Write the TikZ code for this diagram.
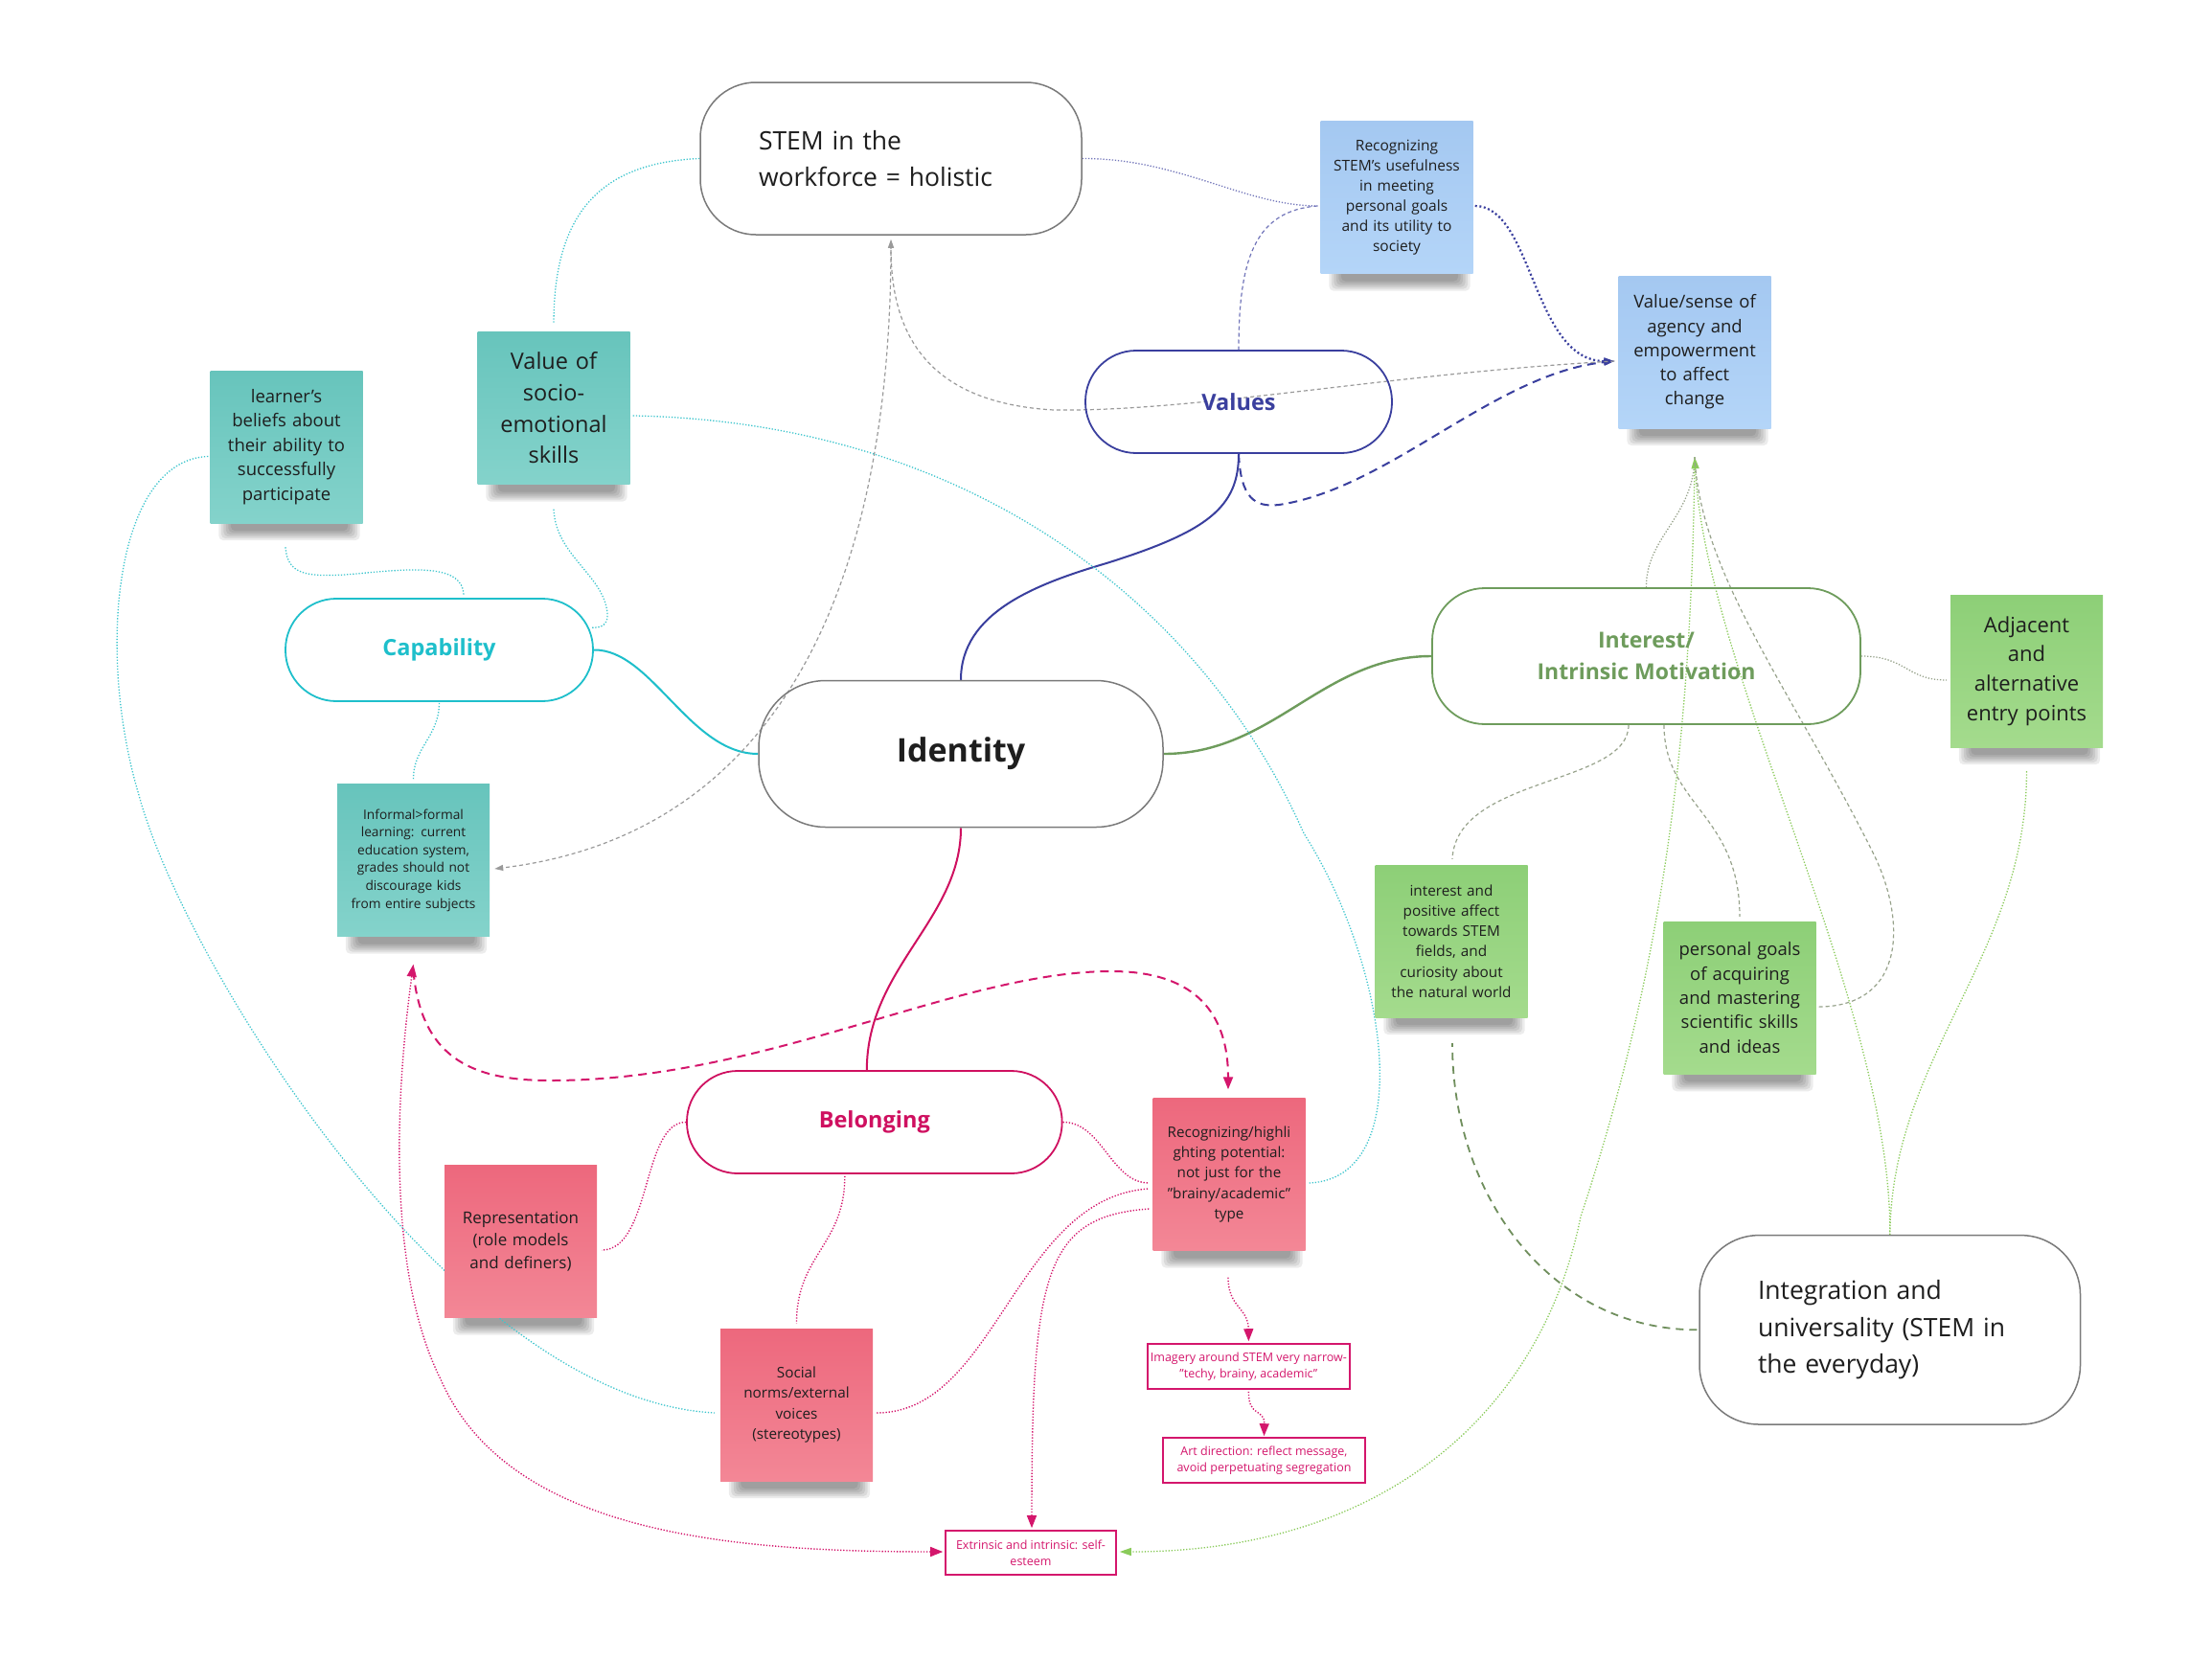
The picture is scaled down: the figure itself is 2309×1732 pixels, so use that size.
\documentclass[tikz,border=0pt]{standalone}
\usepackage{fontspec}
\setmainfont{Open Sans}
\usetikzlibrary{arrows.meta,calc}
\newcommand\myfs[2]{\fontsize{#1}{#2}\selectfont}
\definecolor{teal1}{HTML}{67C4BC}
\definecolor{teal2}{HTML}{84D3CB}
\definecolor{blue1}{HTML}{A4C8F1}
\definecolor{blue2}{HTML}{B4D5F8}
\definecolor{green1}{HTML}{8DCF77}
\definecolor{green2}{HTML}{A4DB8D}
\definecolor{pink1}{HTML}{ED687D}
\definecolor{pink2}{HTML}{F38796}
\definecolor{capc}{HTML}{1EBFCB}
\definecolor{valc}{HTML}{3A3F9E}
\definecolor{intc}{HTML}{6E9C5C}
\definecolor{belc}{HTML}{CF1060}
\definecolor{magc}{HTML}{D4166C}
\definecolor{tealline}{HTML}{3EC6CE}
\definecolor{greenline}{HTML}{8ACB5A}
\definecolor{grayline}{HTML}{9A9A9A}
\definecolor{ggline}{HTML}{98A38C}
\definecolor{oliveline}{HTML}{6F8E5C}
\definecolor{boxgray}{HTML}{7A7A7A}
\definecolor{bluelite}{HTML}{7276BA}
\definecolor{txt}{HTML}{1E1E1E}
\pgfdeclarelayer{bg}
\pgfdeclarelayer{shad}
\pgfdeclarelayer{conn}
\pgfsetlayers{bg,shad,conn,main}
\tikzset{
  sticky/.style={minimum width=159, minimum height=159, inner sep=0, align=center, text width=154, text=txt},
  tealnote/.style={sticky, top color=teal1, bottom color=teal2},
  bluenote/.style={sticky, top color=blue1, bottom color=blue2},
  greennote/.style={sticky, top color=green1, bottom color=green2},
  pinknote/.style={sticky, top color=pink1, bottom color=pink2},
  bigbox/.style={draw=boxgray, line width=1.5, inner sep=0, text=txt},
  pill/.style={line width=1.8, minimum height=107, rounded corners=53, inner sep=0, align=center, font=\myfs{23.5}{33.5}\bfseries},
  smallbox/.style={draw=magc, line width=1.6, text=magc, align=center, inner sep=0, font=\myfs{12.5}{16.8}},
  tdotline/.style={tealline, line width=1.3, dash pattern=on 1.3pt off 1.8pt},
  mdotline/.style={magc, line width=1.4, dash pattern=on 1.3pt off 1.8pt},
  gdotline/.style={greenline, line width=1.3, dash pattern=on 1.3pt off 1.8pt},
  ggdotline/.style={ggline, line width=1.3, dash pattern=on 1.3pt off 1.8pt},
  ggdashline/.style={ggline, line width=1.2, dash pattern=on 4pt off 3pt},
  graydashline/.style={grayline, line width=1.2, dash pattern=on 4pt off 3pt},
  bluedotline/.style={bluelite, line width=1.3, dash pattern=on 1.3pt off 1.8pt},
  bluedashline/.style={bluelite, line width=1.2, dash pattern=on 4pt off 3pt},
  bluedotthick/.style={valc, line width=2.2, dash pattern=on 2pt off 2.6pt},
  bluedashthick/.style={valc, line width=2, dash pattern=on 9pt off 6pt},
  magdashline/.style={magc, line width=2, dash pattern=on 9pt off 6pt},
  olivedashline/.style={oliveline, line width=1.8, dash pattern=on 8pt off 6pt},
  magtip/.tip={Triangle[length=13pt,width=10pt]},
  graytip/.tip={Triangle[length=9pt,width=6pt]},
  bluetip/.tip={Triangle[length=11pt,width=7pt]},
  greentip/.tip={Triangle[length=12pt,width=8pt]},
}
\newcommand\stkshadow[1]{%
  \foreach \k in {0,...,5} {%
    \fill[black, opacity=0.075, rounded corners=5] ($(#1.south west)+(9+2.5*\k,-8)$) rectangle ($(#1.south east)+(-3-2.5*\k,18-2*\k)$);}}
\begin{document}
\begin{tikzpicture}[x=1pt,y=-1pt]
\begin{pgfonlayer}{bg}
\fill[white] (0,0) rectangle (2309,1732);
\end{pgfonlayer}
\useasboundingbox (0,0) rectangle (2309,1732);

% ---------- big boxes ----------
\node[bigbox, minimum width=398, minimum height=159, rounded corners=58, text width=276, align=left, font=\myfs{26.5}{38}] (stem) at (930,165.5) {STEM in the\\workforce = holistic};
\node[bigbox, minimum width=422, minimum height=153, rounded corners=70, font=\myfs{34}{40}\bfseries] (identity) at (1003,787) {Identity};
\node[bigbox, minimum width=397.5, minimum height=197.4, rounded corners=62, text width=275.5, align=left, font=\myfs{26.5}{38.5}] (integ) at (1972.75,1388.3) {Integration and\\universality (STEM in\\the everyday)};

% ---------- pills ----------
\node[pill, draw=valc, text=valc, minimum width=320] (values) at (1293,419.5) {Values};
\node[pill, draw=capc, text=capc, minimum width=321] (capab) at (458.5,678.5) {Capability};
\node[pill, draw=intc, text=intc, minimum width=447, minimum height=142, rounded corners=55, font=\myfs{23}{33.5}\bfseries] (interest) at (1718.5,685) {Interest/\\Intrinsic Motivation};
\node[pill, draw=belc, text=belc, minimum width=391.6] (belong) at (912.8,1171.5) {Belonging};

% ---------- sticky notes ----------
\node[bluenote, font=\myfs{15.5}{21}] (useful) at (1458,206) {Recognizing\\STEM's usefulness\\in meeting\\personal goals\\and its utility to\\society};
\node[bluenote, font=\myfs{18.5}{25.2}] (vsense) at (1769,367.5) {Value/sense of\\agency and\\empowerment\\to affect\\change};
\node[tealnote, font=\myfs{18.5}{25.5}] (learner) at (299,466.5) {learner’s\\beliefs about\\their ability to\\successfully\\participate};
\node[tealnote, font=\myfs{23.5}{32.7}] (socio) at (578,426) {Value of\\socio-\\emotional\\skills};
\node[tealnote, font=\myfs{13.7}{18.6}] (informal) at (431.5,898) {Informal>formal\\learning: current\\education system,\\grades should not\\discourage kids\\from entire subjects};
\node[greennote, font=\myfs{22}{30.7}] (adjacent) at (2115.5,700.5) {Adjacent\\and\\alternative\\entry points};
\node[greennote, font=\myfs{15.3}{21.2}] (ipos) at (1515,982.5) {interest and\\positive affect\\towards STEM\\fields, and\\curiosity about\\the natural world};
\node[greennote, font=\myfs{18.5}{25.4}] (personal) at (1816,1041.6) {personal goals\\of acquiring\\and mastering\\scientific skills\\and ideas};
\node[pinknote, font=\myfs{17}{23.5}] (repr) at (543.5,1296) {Representation\\(role models\\and definers)};
\node[pinknote, font=\myfs{15.2}{21.2}] (recpot) at (1283,1226) {Recognizing/highli\\ghting potential:\\not just for the\\"brainy/academic"\\type};
\node[pinknote, font=\myfs{15.3}{21.5}] (social) at (831.5,1466.5) {Social\\norms/external\\voices\\(stereotypes)};

% ---------- small boxes ----------
\node[smallbox, minimum width=211, minimum height=47] (imagery) at (1303.4,1426.5) {Imagery around STEM very narrow-\\"techy, brainy, academic"};
\node[smallbox, minimum width=211, minimum height=47] (artdir) at (1319.5,1524.5) {Art direction: reflect message,\\avoid perpetuating segregation};
\node[smallbox, minimum width=178, minimum height=46] (extr) at (1076,1621) {Extrinsic and intrinsic: self-\\esteem};

\coordinate (vsarrow) at ($(vsense.south)+(0,30)$);

% ---------- shadows ----------
\begin{pgfonlayer}{shad}
\foreach \n in {useful,vsense,learner,socio,informal,adjacent,ipos,personal,repr,recpot,social} {\stkshadow{\n}}
\end{pgfonlayer}

% ---------- connectors ----------
\begin{pgfonlayer}{conn}
% solid links from Identity
\draw[capc, line width=2] (capab.east) .. controls (680,677.5) and (720,787) .. (identity.west);
\draw[valc, line width=2] (identity.north) .. controls (1003,640) and (1080,610) .. (1155,588) .. controls (1260,555) and (1293,530) .. (values.south);
\draw[intc, line width=2.4] (identity.east) .. controls (1330,787) and (1380,685) .. (interest.west);
\draw[belc, line width=2] (identity.south) .. controls (1003,960) and (905,1010) .. ($(belong.north)+(-8,0)$);

% STEM links
\draw[tdotline] (stem.west) .. controls (620,170) and (578,230) .. ($(socio.north)+(0,-8)$);
\draw[bluedotline] (stem.east) .. controls (1230,165) and (1300,215) .. ($(useful.west)+(-3,9)$);
\draw[bluedashline] ($(useful.west)+(-3,9)$) .. controls (1310,220) and (1293,270) .. (values.north);
\draw[bluedotthick, -{bluetip}] ($(useful.east)+(2,9)$) .. controls (1600,215) and (1600,377) .. ($(vsense.west)+(-4,9.5)$);
\draw[bluedashthick, -{bluetip}] (values.south) .. controls (1295,520) and (1310,530) .. (1335,527) .. controls (1450,510) and (1560,390) .. ($(vsense.west)+(-4,9.5)$);
\draw[graydashline, -{graytip}] ($(vsense.west)+(-4,9.5)$) .. controls (1450,390) and (1250,430) .. (1100,428) .. controls (960,420) and (930,340) .. ($(stem.south)+(0,4)$);
\draw[graydashline, -{graytip}] ($(stem.south)+(0,10)$) .. controls (930,600) and (820,870) .. ($(informal.east)+(5,9)$);

% teal dotted links
\draw[tdotline] ($(socio.east)+(3,8)$) .. controls (1000,440) and (1250,620) .. (1361,870) .. controls (1450,1010) and (1480,1230) .. ($(recpot.east)+(4,9)$);
\draw[tdotline] ($(socio.south)+(0,26)$) .. controls (580,580) and (630,600) .. (634,640) .. controls (635,652) and (628,656) .. ($(capab.north east)+(-3,31)$);
\draw[tdotline] ($(learner.south)+(-1,25)$) .. controls (300,600) and (320,602) .. (360,600) .. controls (420,595) and (484,585) .. ($(capab.north)+(25.5,-2)$);
\draw[tdotline] ($(learner.west)+(-2,10)$) .. controls (120,480) and (100,680) .. (145,830) .. controls (190,1000) and (470,1460) .. ($(social.west)+(-6,8.5)$);
\draw[tdotline] ($(capab.south)+(0,1)$) .. controls (458,770) and (431,780) .. ($(informal.north)+(0,-4)$);

% Belonging links
\draw[mdotline] (belong.west) .. controls (670,1171) and (680,1305) .. ($(repr.east)+(5,9)$);
\draw[mdotline] ($(belong.south)+(-31,2)$) .. controls (882,1300) and (831,1310) .. ($(social.north)+(0,-5)$);
\draw[mdotline] (belong.east) .. controls (1150,1171) and (1160,1235) .. ($(recpot.west)+(-4,9)$);
\draw[mdotline] ($(social.east)+(4,8.5)$) .. controls (1040,1475) and (1060,1250) .. ($(recpot.west)+(-4,15)$);
\draw[mdotline, -{magtip}] ($(recpot.west)+(-4,36)$) .. controls (1090,1270) and (1077,1330) .. ($(extr.north)+(1,-2)$);
\draw[mdotline, -{magtip}] ($(recpot.south)+(-1,28)$) .. controls (1282,1365) and (1303,1365) .. ($(imagery.north)+(0,-2)$);
\draw[mdotline, -{magtip}] ($(imagery.south)+(0,2)$) .. controls (1303,1480) and (1320,1470) .. ($(artdir.north)+(0,-1)$);
\draw[mdotline, {magtip}-{magtip}] ($(informal.south)+(0,29)$) .. controls (412,1150) and (405,1330) .. (460,1440) .. controls (530,1600) and (760,1620) .. ($(extr.west)+(-2,-1)$);
\draw[magdashline, -{magtip}] ($(informal.south)+(0,36)$) .. controls (440,1110) and (500,1128) .. (575,1128) .. controls (800,1128) and (1000,1014) .. (1160,1014) .. controls (1250,1014) and (1282,1060) .. ($(recpot.north)+(-1,-9)$);

% Interest links
\draw[ggdotline] (interest.east) .. controls (1990,685) and (1990,710) .. ($(adjacent.west)+(-4,9.5)$);
\draw[ggdashline] ($(interest.south)+(-18.5,0)$) .. controls (1700,820) and (1520,810) .. ($(ipos.north)+(1,-6)$);
\draw[ggdashline] ($(interest.south)+(18.5,0)$) .. controls (1737,840) and (1816,850) .. ($(personal.north)+(0,-5)$);
\draw[ggdotline] (interest.north) .. controls (1718,560) and (1768,540) .. (vsarrow);
\draw[gdotline, -{greentip}] (vsarrow) .. controls (1766,750) and (1740,1000) .. (1650,1270) .. controls (1610,1470) and (1450,1620) .. ($(extr.east)+(3,-1)$);
\draw[gdotline, -{greentip}] (integ.north) .. controls (1975,1050) and (1780,700) .. (vsarrow);
\draw[ggdashline] ($(personal.east)+(3,9.5)$) .. controls (1990,1050) and (1990,960) .. (1955,890) .. controls (1870,720) and (1775,600) .. (vsarrow);
\draw[gdotline] ($(adjacent.south)+(0,25)$) .. controls (2115,1000) and (1975,1100) .. (integ.north);
\draw[olivedashline] ($(integ.west)+(-2,0)$) .. controls (1620,1388) and (1516,1250) .. ($(ipos.south)+(1,27)$);
\end{pgfonlayer}
\end{tikzpicture}
\end{document}
